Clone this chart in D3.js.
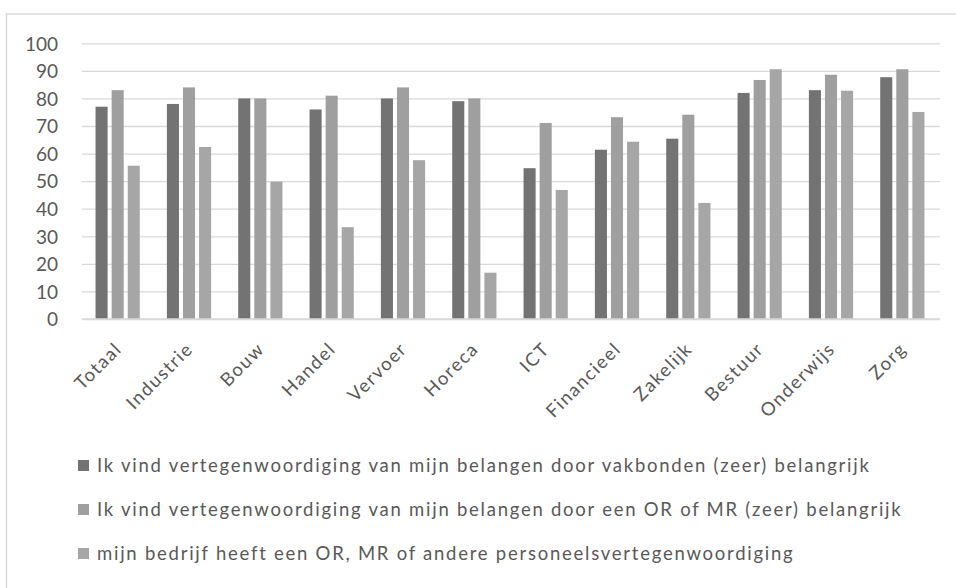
<!DOCTYPE html>
<html>
<head>
<meta charset="utf-8">
<script src="https://cdn.jsdelivr.net/npm/d3@7"></script>
<style>
  html, body { margin: 0; padding: 0; background: #fff; }
  svg { display: block; }
  text { font-family: Lato, "Open Sans", sans-serif; fill: #595959; }
</style>
</head>
<body>
<svg id="chart" width="956" height="588"></svg>
<script>
const categories = ["Totaal","Industrie","Bouw","Handel","Vervoer","Horeca","ICT","Financieel","Zakelijk","Bestuur","Onderwijs","Zorg"];
const seriesNames = [
  "Ik vind vertegenwoordiging van mijn belangen door vakbonden (zeer) belangrijk",
  "Ik vind vertegenwoordiging van mijn belangen door een OR of MR (zeer) belangrijk",
  "mijn bedrijf heeft een OR, MR of andere personeelsvertegenwoordiging"
];
const vakbonden = [77, 78, 80, 76, 80, 79, 54.7, 61.4, 65.4, 82, 83, 87.7];
const orMr      = [83, 84, 80, 81, 84, 80, 71.1, 73.2, 74.1, 86.7, 88.6, 90.6];
const heeftOr   = [55.6, 62.4, 49.8, 33.3, 57.6, 16.8, 46.8, 64.3, 42.1, 90.6, 82.8, 75.1];
const yTicks = [0,10,20,30,40,50,60,70,80,90,100];
const colors = ["#737373", "#9f9f9f", "#a6a6a6"];

const seriesValues = [vakbonden, orMr, heeftOr];
const data = categories.map((c, i) => ({cat: c, vals: seriesValues.map((s, k) => ({k, v: s[i]}))}));

const svg = d3.select("#chart");

// chart frame
svg.append("rect").attr("x", 6.5).attr("y", 14).attr("width", 980).attr("height", 600)
  .attr("fill", "none").attr("stroke", "#d9d9d9").attr("stroke-width", 1.5);

const plotL = 82, plotR = 938, plotT = 43.3, plotB = 319;
const y = d3.scaleLinear().domain([0, 100]).range([plotB, plotT]);
const x0 = d3.scaleBand().domain(categories).range([plotL, plotR]).paddingInner(0.38).paddingOuter(0.19);
const x1 = d3.scaleBand().domain([0,1,2]).range([0, x0.bandwidth()]).paddingInner(0.25).paddingOuter(0);

// gridlines
const yAxis = d3.axisLeft(y).tickValues(yTicks).tickSize(-(plotR + 2 - plotL)).tickPadding(24);
const gy = svg.append("g").attr("transform", `translate(${plotL},0)`).call(yAxis);
gy.select(".domain").remove();
gy.selectAll(".tick line").attr("stroke", "#d9d9d9").attr("stroke-width", 1.3);
gy.selectAll(".tick text").style("font-size", "19px").attr("fill", "#595959").attr("dy", "0.36em");

// bars
const groups = svg.append("g").selectAll("g").data(data).join("g")
  .attr("transform", d => `translate(${x0(d.cat)},0)`);
groups.selectAll("rect").data(d => d.vals).join("rect")
  .attr("x", d => x1(d.k)).attr("width", x1.bandwidth())
  .attr("y", d => y(d.v)).attr("height", d => y(0) - y(d.v))
  .attr("fill", d => colors[d.k]);

// x axis
const xAxis = d3.axisBottom(x0).tickSize(0).tickPadding(0);
const gx = svg.append("g").attr("transform", `translate(0,${plotB})`).call(xAxis);
gx.select(".domain").attr("stroke", "#d9d9d9").attr("stroke-width", 1.3)
  .attr("d", `M${plotL},0H${plotR + 2}`);
gx.selectAll(".tick text")
  .style("font-size", "18.5px").style("letter-spacing", "1.5px").attr("fill", "#595959")
  .attr("text-anchor", "end").attr("dy", null).attr("y", 0)
  .attr("transform", "translate(-5,21) rotate(-45)")
  .attr("dominant-baseline", "hanging");

// legend
const legend = svg.append("g").selectAll("g").data(seriesNames).join("g")
  .attr("transform", (d, i) => `translate(78,${460 + i * 44})`);
legend.append("rect").attr("width", 11).attr("height", 11).attr("fill", (d, i) => colors[i]);
legend.append("text").attr("x", 19).attr("y", 5.5).attr("dy", "0.35em")
  .style("font-size", "18.5px").style("letter-spacing", "1.75px").text(d => d);
</script>
</body>
</html>
